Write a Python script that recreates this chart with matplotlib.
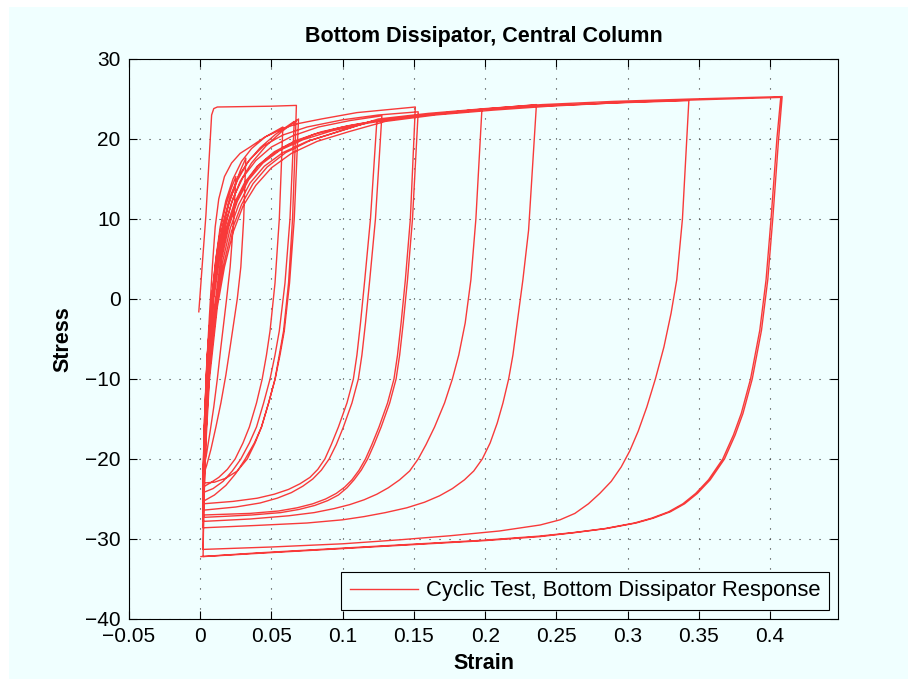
import numpy as np
import matplotlib
matplotlib.use("Agg")
import matplotlib.pyplot as plt
from matplotlib.patches import Rectangle

plt.rcParams['font.family'] = ['Liberation Sans', 'DejaVu Sans']

# ---- data (strain, stress), in test order ----
# virgin loading to 0.068 and first unloading
virgin_strain = [-0.001, 0.004, 0.008, 0.0095, 0.012, 0.03, 0.05, 0.0675,
                 0.0668, 0.0648, 0.0620, 0.0585, 0.0555, 0.0525, 0.0480, 0.0430, 0.0385, 0.0330,
                 0.0260, 0.0180, 0.0100, 0.002]
virgin_stress = [-1.6, 10.5, 23.0, 23.8, 24.0, 24.05, 24.1, 24.2,
                 20.0, 10.0, 2.0, -4.0, -7.0, -10.0, -13.0, -16.0, -18.0, -20.0,
                 -21.5, -22.4, -22.9, -23.0]

c1_strain = [0.002, 0.003, 0.005, 0.0085, 0.012, 0.016, 0.02, 0.024, 0.028, 0.032,
             0.0305, 0.0285, 0.026, 0.0235, 0.021, 0.018, 0.0145, 0.011, 0.0075, 0.0045, 0.002]
c1_stress = [-23.0, -16.0, -8.0, 0.0, 5.0, 8.8, 11.8, 14.0, 16.0, 17.6,
             10.0, 4.0, 0.0, -3.0, -6.0, -9.5, -13.0, -16.0, -18.8, -20.8, -22.2]

c2_strain = [0.002, 0.003, 0.005, 0.008, 0.011, 0.0145, 0.018, 0.0215, 0.025,
             0.0235, 0.021, 0.0185, 0.0165, 0.0145, 0.012, 0.0095, 0.007, 0.0045, 0.002]
c2_stress = [-22.2, -15.0, -7.0, 0.0, 5.0, 9.0, 11.7, 13.7, 15.3,
             10.0, 4.0, 0.0, -3.0, -6.0, -10.0, -13.5, -16.5, -19.3, -21.5]

c3_strain = [0.002, 0.003, 0.005, 0.008, 0.011, 0.014, 0.018, 0.023, 0.029, 0.036, 0.046, 0.058,
             0.0555, 0.0525, 0.0490, 0.0465, 0.0435, 0.0395, 0.0345, 0.0300, 0.0245, 0.0190,
             0.0130, 0.0070, 0.002]
c3_stress = [-21.5, -15.0, -7.0, 0.0, 5.0, 9.0, 12.3, 15.0, 17.2, 18.8, 20.3, 21.5,
             10.0, 2.0, -4.0, -7.0, -10.0, -13.0, -16.0, -18.0, -20.0, -21.3,
             -22.3, -23.0, -23.5]

c4_strain = [0.002, 0.003, 0.005, 0.0085, 0.012, 0.0155, 0.02, 0.026, 0.033, 0.042, 0.053, 0.066,
             0.0630, 0.0595, 0.0555, 0.0525, 0.0490, 0.0445, 0.0395, 0.0345, 0.0285, 0.0225,
             0.0160, 0.0090, 0.002]
c4_stress = [-23.5, -16.0, -8.0, 0.0, 5.0, 8.8, 12.0, 14.8, 17.0, 18.9, 20.6, 22.2,
             10.0, 2.0, -4.0, -7.0, -10.0, -13.0, -16.0, -18.0, -20.0, -21.5,
             -22.8, -23.7, -24.2]

c5_strain = [0.002, 0.003, 0.005, 0.009, 0.013, 0.017, 0.022, 0.028, 0.036, 0.046, 0.057, 0.069,
             0.0660, 0.0627, 0.0590, 0.0560, 0.0526, 0.0480, 0.0430, 0.0380, 0.0316, 0.0250,
             0.0180, 0.0100, 0.002]
c5_stress = [-24.2, -17.0, -9.0, 0.0, 5.2, 8.8, 12.0, 14.7, 17.0, 19.1, 20.9, 22.5,
             10.0, 2.0, -4.0, -7.0, -10.0, -13.0, -16.0, -18.0, -20.0, -21.8,
             -23.3, -24.5, -25.3]

c6_strain = [0.002, 0.003, 0.005, 0.0095, 0.0135, 0.018, 0.024, 0.031, 0.04, 0.052, 0.067, 0.085, 0.105, 0.124,
             0.1195, 0.1155, 0.1125, 0.1100, 0.1075, 0.1030, 0.0970, 0.0920, 0.0875, 0.0825,
             0.0770, 0.0700, 0.0620, 0.0520, 0.0400, 0.0230, 0.002]
c6_stress = [-25.3, -18.0, -9.0, 0.0, 5.0, 8.8, 12.0, 14.5, 16.6, 18.4, 19.8, 20.9, 21.7, 22.3,
             10.0, 2.4, -3.0, -7.0, -10.0, -13.0, -16.0, -18.2, -20.0, -21.3,
             -22.3, -23.1, -23.8, -24.4, -24.9, -25.3, -25.6]

c7_strain = [0.002, 0.003, 0.005, 0.009, 0.013, 0.0175, 0.023, 0.03, 0.039, 0.05, 0.065, 0.083, 0.105, 0.1275,
             0.1230, 0.1190, 0.1160, 0.1135, 0.1110, 0.1065, 0.1005, 0.0955, 0.0905, 0.0850,
             0.0790, 0.0720, 0.0640, 0.0540, 0.0420, 0.0250, 0.002]
c7_stress = [-25.6, -18.0, -9.0, 0.0, 5.3, 9.3, 12.6, 15.2, 17.3, 19.0, 20.4, 21.5, 22.3, 22.9,
             10.0, 2.4, -3.0, -7.0, -10.0, -13.0, -16.0, -18.2, -20.0, -21.4,
             -22.5, -23.4, -24.2, -24.9, -25.5, -26.0, -26.4]

c8_strain = [0.002, 0.0025, 0.004, 0.0065, 0.0085, 0.0105, 0.013, 0.017, 0.022, 0.028, 0.035, 0.045,
             0.058, 0.068, 0.085, 0.11, 0.151,
             0.1475, 0.1440, 0.1410, 0.1385, 0.1360, 0.1315, 0.1255, 0.1205, 0.1160, 0.1115,
             0.1065, 0.1015, 0.0955, 0.0880, 0.0790, 0.0680, 0.0550, 0.0350, 0.002]
c8_stress = [-26.4, -20.0, -10.0, -2.0, 4.0, 9.0, 12.5, 15.3, 17.0, 18.2, 19.0, 20.2,
             21.3, 21.9, 22.5, 23.3, 24.0,
             10.0, 2.4, -3.0, -7.0, -10.0, -13.0, -16.0, -18.2, -20.0, -21.4,
             -22.6, -23.5, -24.3, -25.0, -25.6, -26.1, -26.5, -26.8, -27.0]

c9_strain = [0.002, 0.003, 0.005, 0.0085, 0.012, 0.016, 0.021, 0.027, 0.035, 0.045, 0.058, 0.075, 0.1,
             0.125, 0.153,
             0.1490, 0.1455, 0.1425, 0.1400, 0.1375, 0.1330, 0.1270, 0.1220, 0.1175, 0.1130,
             0.1080, 0.1030, 0.0970, 0.0895, 0.0805, 0.0695, 0.0565, 0.0360, 0.002]
c9_stress = [-27.0, -19.0, -10.0, -1.0, 5.0, 9.3, 12.8, 15.4, 17.5, 19.2, 20.5, 21.5, 22.4,
             23.0, 23.4,
             10.0, 2.4, -3.0, -7.0, -10.0, -13.0, -16.0, -18.2, -20.0, -21.4,
             -22.6, -23.6, -24.5, -25.2, -25.8, -26.3, -26.7, -27.0, -27.3]

c10_strain = [0.002, 0.003, 0.0055, 0.010, 0.0145, 0.019, 0.025, 0.032, 0.041, 0.049, 0.062, 0.08, 0.1,
              0.128, 0.16, 0.1977,
              0.1935, 0.1900, 0.1860, 0.1815, 0.1770, 0.1715, 0.1645, 0.1585, 0.1530, 0.1470,
              0.1400, 0.1320, 0.1240, 0.1150, 0.1050, 0.0940, 0.0800, 0.0620, 0.0350, 0.002]
c10_stress = [-27.3, -20.0, -10.0, -1.0, 5.0, 8.8, 12.0, 14.6, 16.7, 17.9, 19.3, 20.6, 21.5,
              22.4, 23.0, 23.6,
              10.0, 2.4, -3.0, -7.0, -10.0, -13.0, -16.0, -18.2, -20.0, -21.5,
              -22.6, -23.6, -24.4, -25.1, -25.7, -26.2, -26.7, -27.1, -27.5, -27.8]

c11_strain = [0.002, 0.003, 0.0055, 0.0105, 0.015, 0.02, 0.026, 0.034, 0.044, 0.056, 0.072, 0.092, 0.118,
              0.15, 0.19, 0.236,
              0.2305, 0.2265, 0.2225, 0.2195, 0.2165, 0.2125, 0.2085, 0.2035, 0.1980, 0.1920,
              0.1855, 0.1770, 0.1680, 0.1575, 0.1450, 0.1300, 0.1150, 0.1000, 0.0750, 0.040, 0.002]
c11_stress = [-27.8, -20.0, -10.0, -1.0, 5.0, 9.0, 12.2, 14.9, 17.0, 18.6, 19.9, 21.0, 22.0,
              22.8, 23.6, 24.3,
              8.6, 2.4, -3.0, -7.0, -10.0, -13.0, -15.5, -18.0, -20.0, -21.5,
              -22.6, -23.7, -24.6, -25.4, -26.1, -26.7, -27.2, -27.6, -28.0, -28.3, -28.6]

c12_strain = [0.002, 0.003, 0.0055, 0.011, 0.0155, 0.021, 0.027, 0.035, 0.045, 0.058, 0.075, 0.095, 0.12,
              0.15, 0.19, 0.236, 0.29, 0.343,
              0.3385, 0.3345, 0.3305, 0.3255, 0.3195, 0.3135, 0.3075, 0.3015, 0.2955, 0.2885,
              0.2805, 0.2725, 0.2630, 0.2526, 0.2386, 0.2100, 0.175, 0.14, 0.1, 0.05, 0.002]
c12_stress = [-28.6, -21.0, -11.0, -1.0, 4.5, 8.8, 11.8, 14.5, 16.6, 18.3, 19.7, 20.8, 22.2,
              22.9, 23.6, 24.1, 24.5, 24.8,
              10.0, 2.4, -1.8, -6.0, -10.0, -13.5, -16.5, -19.0, -21.0, -22.8,
              -24.3, -25.6, -26.8, -27.6, -28.25, -29.0, -29.6, -30.1, -30.6, -31.0, -31.3]

c13_strain = [0.002, 0.0025, 0.004, 0.0065, 0.0115, 0.016, 0.022, 0.029, 0.037, 0.047, 0.06, 0.077, 0.098,
              0.125, 0.16, 0.2, 0.24, 0.29, 0.345, 0.4085,
              0.406, 0.4019, 0.3984, 0.394, 0.3875, 0.381, 0.3755, 0.368, 0.358, 0.349, 0.340,
              0.330, 0.318, 0.306, 0.285, 0.263, 0.2386, 0.200, 0.160, 0.119, 0.08, 0.04, 0.002]
c13_stress = [-31.3, -25.0, -17.0, -9.0, -1.0, 4.0, 8.5, 11.8, 14.4, 16.5, 18.3, 19.8, 21.0,
              22.5, 23.2, 23.8, 24.3, 24.7, 25.0, 25.3,
              20.0, 10.0, 2.4, -3.9, -10.0, -14.3, -17.0, -20.0, -22.6, -24.3, -25.6,
              -26.6, -27.4, -28.0, -28.7, -29.2, -29.7, -30.2, -30.6, -31.0, -31.4, -31.8, -32.2]

c14_strain = [0.002, 0.0025, 0.004, 0.0065, 0.012, 0.017, 0.023, 0.03, 0.039, 0.05, 0.064, 0.082, 0.104,
              0.13, 0.165, 0.205, 0.245, 0.3, 0.35, 0.4075,
              0.4048, 0.4007, 0.3972, 0.3928, 0.3863, 0.3798, 0.3743, 0.3668, 0.3568, 0.3478, 0.3388,
              0.3288, 0.3168, 0.3048, 0.2838, 0.2618, 0.2374, 0.199, 0.159, 0.118, 0.079, 0.039, 0.0005]
c14_stress = [-32.2, -26.0, -18.0, -10.0, -1.0, 4.0, 8.3, 11.6, 14.2, 16.4, 18.2, 19.7, 20.9,
              22.2, 23.0, 23.6, 24.1, 24.6, 24.9, 25.2,
              20.0, 10.0, 2.4, -3.9, -10.0, -14.3, -17.0, -20.0, -22.6, -24.3, -25.6,
              -26.6, -27.4, -28.0, -28.7, -29.2, -29.65, -30.15, -30.55, -30.95, -31.35, -31.75, -32.2]

x_ticks = [-0.05, 0, 0.05, 0.1, 0.15, 0.2, 0.25, 0.3, 0.35, 0.4]
x_ticklabels = ['\u22120.05', '0', '0.05', '0.1', '0.15', '0.2', '0.25', '0.3', '0.35', '0.4']
y_ticks = [-40, -30, -20, -10, 0, 10, 20, 30]
y_ticklabels = ['\u221240', '\u221230', '\u221220', '\u221210', '0', '10', '20', '30']

strain = np.concatenate([virgin_strain, c1_strain, c2_strain, c3_strain, c4_strain, c5_strain,
                         c6_strain, c7_strain, c8_strain, c9_strain, c10_strain, c11_strain,
                         c12_strain, c13_strain, c14_strain])
stress = np.concatenate([virgin_stress, c1_stress, c2_stress, c3_stress, c4_stress, c5_stress,
                         c6_stress, c7_stress, c8_stress, c9_stress, c10_stress, c11_stress,
                         c12_stress, c13_stress, c14_stress])

bg = '#f0ffff'
fig = plt.figure(figsize=(9.17, 6.86), dpi=100, facecolor='white')
fig.patches.append(Rectangle((9 / 917, 7 / 686), 899 / 917, 672 / 686, transform=fig.transFigure,
                             facecolor=bg, edgecolor='none', zorder=-1))
ax = fig.add_axes([129 / 917, 67 / 686, 709 / 917, 560 / 686])
ax.set_facecolor(bg)

ax.plot(strain, stress, color='#f83a3a', lw=1.0, label='Cyclic Test, Bottom Dissipator Response')

ax.set_xlim(-0.05, 0.4477)
ax.set_ylim(-40, 30)
ax.set_xticks(x_ticks)
ax.set_xticklabels(x_ticklabels)
ax.set_yticks(y_ticks)
ax.set_yticklabels(y_ticklabels)
ax.tick_params(direction='in', length=6, width=0.8, labelsize=15, pad=6,
               top=True, right=True, colors='black')
ax.grid(True, color='0.2', linestyle=(0, (1, 8)), linewidth=0.8)
for s in ax.spines.values():
    s.set_linewidth(0.8)

ax.set_title('Bottom Dissipator, Central Column', fontsize=15.5, fontweight='bold', pad=12)
ax.set_xlabel('Strain', fontsize=15.5, fontweight='bold', labelpad=5)
ax.set_ylabel('Stress', fontsize=15.5, fontweight='bold', labelpad=8)

leg = ax.legend(loc='lower right', fontsize=15.8, fancybox=False, framealpha=1,
                facecolor=bg, edgecolor='black', handlelength=3.1, handletextpad=0.35,
                borderpad=0.4, borderaxespad=0.4)
leg.get_frame().set_linewidth(0.8)

fig.savefig('out.png', dpi=100, facecolor='white')
